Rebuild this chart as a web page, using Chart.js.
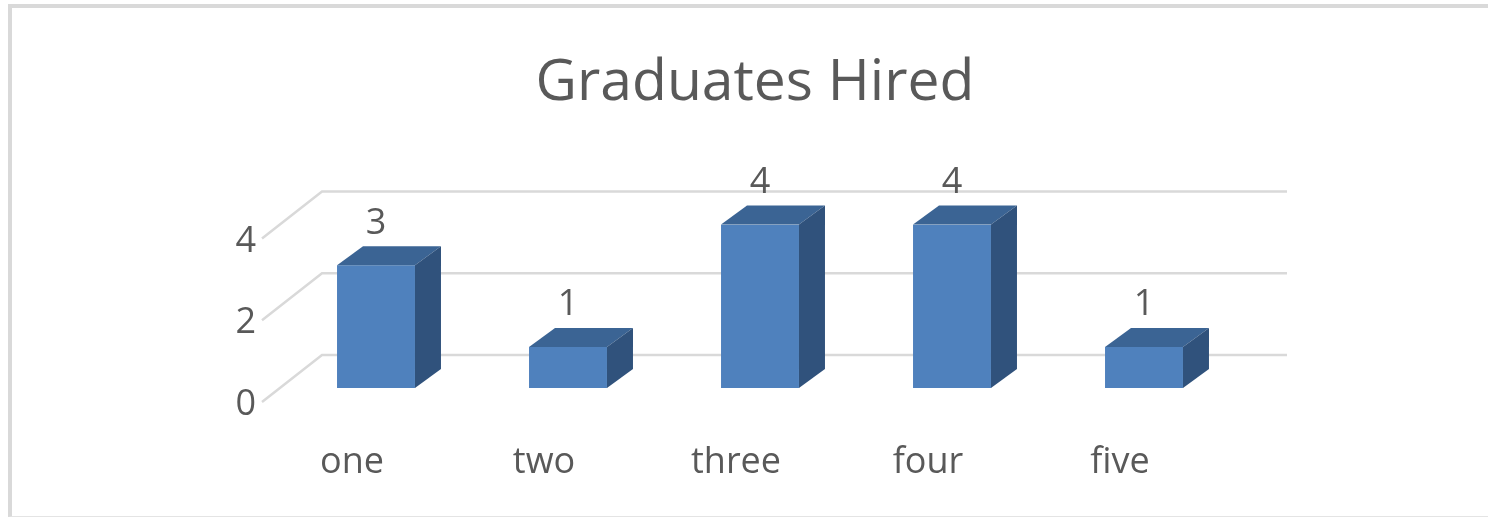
<!DOCTYPE html>
<html>
<head>
<meta charset="utf-8">
<title>Graduates Hired</title>
<script src="https://cdn.jsdelivr.net/npm/chart.js@4/dist/chart.umd.min.js"></script>
<style>
  html, body { margin: 0; padding: 0; background: #fff; overflow: hidden; width: 1488px; height: 517px; }
  #marco { position: absolute; left: 8px; top: 4px; width: 2000px; height: 513px; border: 4px solid #d9d9d9; border-bottom: 1px solid #e4e4e4; box-sizing: border-box; }
  #caja { position: absolute; left: 0; top: 0; width: 1488px; height: 517px; }
</style>
</head>
<body>
<div id="marco"></div>
<div id="caja"><canvas id="grafica"></canvas></div>
<script>
// Datos
const categorias = ['one', 'two', 'three', 'four', 'five'];
const contratados = [3, 1, 4, 4, 1];
const marcasEje = [0, 2, 4];

const textoGris = '#595959';
const lineaGris = '#d9d9d9';
const azulFrente = '#4f81bd';
const azulArriba = '#3b6494';
const azulLado = '#30527c';
const fuente = '"Open Sans", "Noto Sans", sans-serif';

/* Profundidad de la barra (proyección oblicua) */
const PROF_X = 26, PROF_Y = 19;

/*
 * Dibuja la pared del fondo y la pared izquierda (líneas de cuadrícula en perspectiva).
*/
const paredes = {
  id: 'paredes',
  beforeDatasetsDraw(chart) {
    const { ctx, chartArea, scales } = chart;
    const y = scales.y;
    ctx.save();
    ctx.strokeStyle = lineaGris;
    ctx.lineWidth = 2.5;
    marcasEje.forEach(v => {
      const py = y.getPixelForValue(v);
      ctx.beginPath();
      ctx.moveTo(chartArea.left - 18, py + 14);
      ctx.lineTo(chartArea.left + 42, py - 33);
      ctx.lineTo(chartArea.right + 47, py - 33);
      ctx.stroke();
    });
    ctx.restore();
  }
};

/*
 * Agrega la cara superior y lateral a cada barra, y la etiqueta del valor.
*/
const barras3d = {
  id: 'barras3d',
  afterDatasetsDraw(chart) {
    const { ctx } = chart;
    const meta = chart.getDatasetMeta(0);
    ctx.save();
    meta.data.forEach((bar, i) => {
      const izq = bar.x - bar.width / 2;
      const der = bar.x + bar.width / 2;
      const top = bar.y;
      const base = bar.base;

      ctx.fillStyle = azulArriba;
      ctx.beginPath();
      ctx.moveTo(izq, top);
      ctx.lineTo(izq + PROF_X, top - PROF_Y);
      ctx.lineTo(der + PROF_X, top - PROF_Y);
      ctx.lineTo(der, top);
      ctx.closePath();
      ctx.fill();

      ctx.fillStyle = azulLado;
      ctx.beginPath();
      ctx.moveTo(der, top);
      ctx.lineTo(der + PROF_X, top - PROF_Y);
      ctx.lineTo(der + PROF_X, base - PROF_Y);
      ctx.lineTo(der, base);
      ctx.closePath();
      ctx.fill();

      ctx.fillStyle = textoGris;
      ctx.font = '36px ' + fuente;
      ctx.textAlign = 'center';
      ctx.textBaseline = 'middle';
      ctx.fillText(String(contratados[i]), bar.x, top - 42);
    });
    ctx.restore();
  }
};

const ctx = document.getElementById('grafica').getContext('2d');
new Chart(ctx, {
  type: 'bar',
  data: {
    labels: categorias,
    datasets: [{
      label: 'Graduates Hired',
      data: contratados,
      backgroundColor: azulFrente,
      borderWidth: 0,
      barPercentage: 0.406,
      categoryPercentage: 1
    }]
  },
  options: {
    responsive: true,
    maintainAspectRatio: false,
    animation: false,
    layout: { padding: { left: 22, right: 0, top: 0, bottom: 0 } },
    plugins: {
      legend: { display: false },
      tooltip: { enabled: false },
      title: {
        display: true,
        text: 'Graduates Hired',
        color: textoGris,
        font: { family: fuente, size: 57, weight: 'normal' },
        padding: { top: 50, bottom: 106 }
      }
    },
    scales: {
      x: {
        grid: { display: false, drawTicks: false },
        border: { display: false },
        ticks: { color: textoGris, font: { family: fuente, size: 36 }, padding: 53, labelOffset: -24, maxRotation: 0 },
        afterFit(scale) { scale.height = 129; }
      },
      y: {
        min: 0,
        max: 4,
        grid: { display: false, drawTicks: false },
        border: { display: false },
        ticks: { stepSize: 2, color: textoGris, font: { family: fuente, size: 36 }, padding: 24, labelOffset: 17 },
        afterFit(scale) { scale.width = 258; }
      },
      /* Eje vacío a la derecha para reservar el espacio sin mover el título */
      derecha: {
        type: 'linear',
        position: 'right',
        grid: { display: false, drawTicks: false },
        border: { display: false },
        ticks: { display: false },
        afterFit(scale) { scale.width = 248; }
      }
    }
  },
  plugins: [paredes, barras3d]
});
</script>
</body>
</html>
